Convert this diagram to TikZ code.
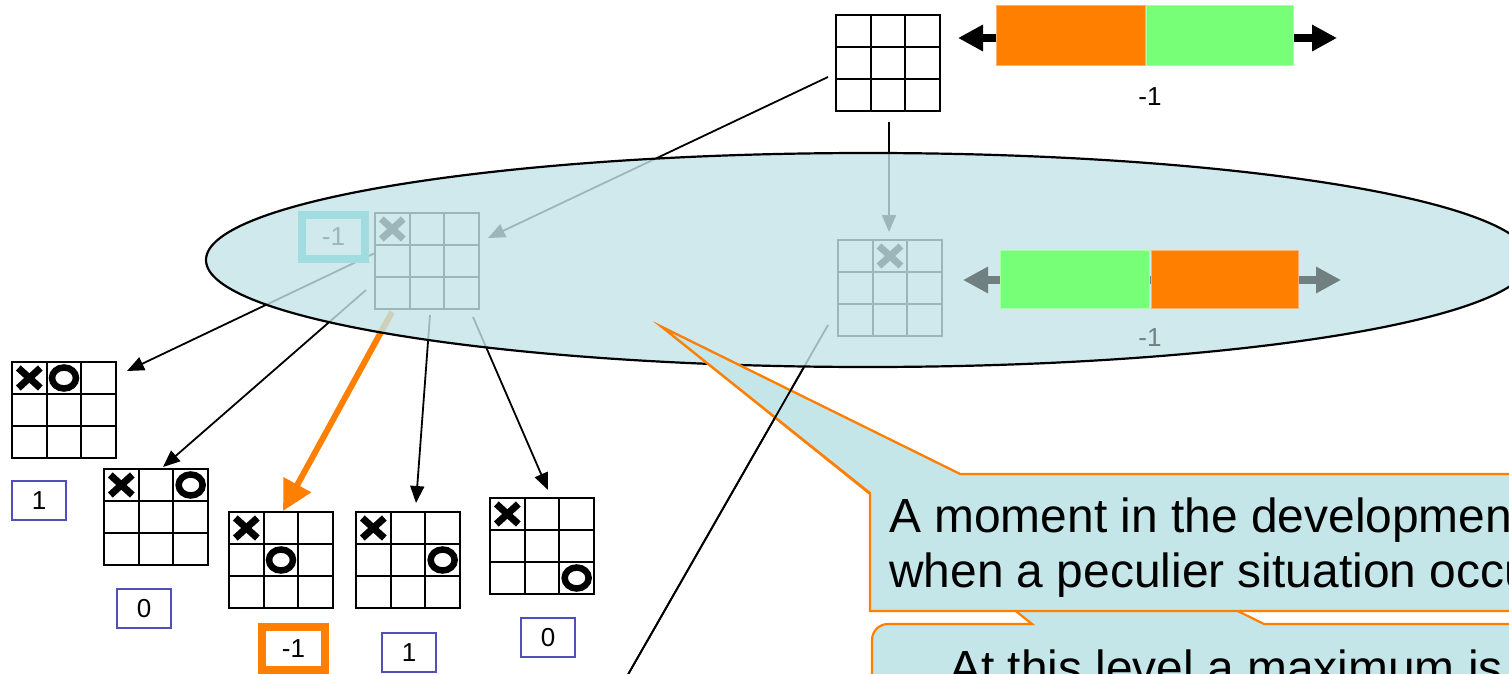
\documentclass[tikz,border=0pt]{standalone}
\usepackage{fontspec}
\setmainfont{Liberation Sans}
\usetikzlibrary{arrows.meta,calc}
\definecolor{ppOrange}{RGB}{255,128,0}
\definecolor{ppOrangeEdge}{RGB}{255,176,110}
\definecolor{ppGreen}{RGB}{120,255,120}
\definecolor{ppGreenEdge}{RGB}{170,255,170}
\definecolor{ppBlue}{RGB}{80,80,184}
\definecolor{ppGray}{RGB}{112,128,128}
\definecolor{ellFill}{RGB}{196,228,232}
\definecolor{callFill}{RGB}{196,230,232}
\definecolor{boxCyan}{RGB}{20,190,195}
\newcommand\tttgrid[1]{%
  \draw[gridline] ($(#1.north west)!1/3!(#1.north east)$) -- ($(#1.south west)!1/3!(#1.south east)$);
  \draw[gridline] ($(#1.north west)!2/3!(#1.north east)$) -- ($(#1.south west)!2/3!(#1.south east)$);
  \draw[gridline] ($(#1.north west)!1/3!(#1.south west)$) -- ($(#1.north east)!1/3!(#1.south east)$);
  \draw[gridline] ($(#1.north west)!2/3!(#1.south west)$) -- ($(#1.north east)!2/3!(#1.south east)$);}
\newcommand\xmark[3]{%
  \draw[xstroke] ($(#1)+(#2*34.667-11,#3*32-10)$) -- ($(#1)+(#2*34.667+11,#3*32+10)$);
  \draw[xstroke] ($(#1)+(#2*34.667-11,#3*32+10)$) -- ($(#1)+(#2*34.667+11,#3*32-10)$);}
\newcommand\omark[3]{%
  \draw[ostroke] ($(#1)+(#2*34.667,#3*32)$) ellipse[x radius=12pt, y radius=10.5pt];}
\begin{document}
\begin{tikzpicture}[x=1pt,y=-1pt,
  boardnode/.style={draw=black, line width=2pt, minimum width=104pt, minimum height=96pt, inner sep=0pt, outer sep=0pt},
  gridline/.style={line width=2pt},
  xstroke/.style={line width=7pt, line cap=butt},
  ostroke/.style={line width=6.5pt},
  conn/.style={line width=1.8pt, -{Triangle[length=17pt,width=14pt]}},
  plainconn/.style={line width=1.8pt},
  bigconn/.style={line width=6pt, draw=ppOrange, -{Triangle[length=30pt,width=30pt]}},
  valbox/.style={draw=ppBlue, line width=1.8pt, fill=white, minimum width=54pt, minimum height=39pt, inner sep=0pt, font=\fontsize{26}{30}\selectfont},
  bestbox/.style={draw=ppOrange, line width=8pt, fill=white, minimum width=63pt, minimum height=43pt, inner sep=0pt, font=\fontsize{26}{30}\selectfont},
  rootbox/.style={draw=boxCyan, line width=8pt, fill=white, minimum width=63pt, minimum height=44pt, inner sep=0pt, font=\fontsize{26}{30}\selectfont},
  barrect/.style={minimum width=148pt, minimum height=60pt, inner sep=0pt, line width=1pt},
  bararrow/.style={line width=8pt, {Triangle[length=25pt,width=25pt]}-{Triangle[length=25pt,width=25pt]}},
  lbl/.style={font=\fontsize{26}{30}\selectfont, inner sep=0pt},
  calloutshape/.style={fill=callFill, draw=ppOrange, line width=2.2pt, line join=miter},
  callouttext/.style={font=\fontsize{47.9}{55}\selectfont, align=left, inner sep=0pt, anchor=base west}
]
\useasboundingbox (0,0) rectangle (1509,674);
\clip (0,0) rectangle (1509,674);
\fill[white] (0,0) rectangle (1509,674);

% ---------- boards ----------
\node[boardnode] (b0) at (888,63) {};
\node[boardnode] (bL) at (427,261) {};
\node[boardnode] (bM) at (890,288) {};
\node[boardnode] (c1) at (64,410) {};
\node[boardnode] (c2) at (156,517) {};
\node[boardnode] (c3) at (281,560) {};
\node[boardnode] (c4) at (408,560) {};
\node[boardnode] (c5) at (542,546) {};
\tttgrid{b0}\tttgrid{bL}\tttgrid{bM}
\tttgrid{c1}\tttgrid{c2}\tttgrid{c3}\tttgrid{c4}\tttgrid{c5}
\xmark{bL}{-1}{-1}
\xmark{bM}{0}{-1}
\xmark{c1}{-1}{-1}\omark{c1}{0}{-1}
\xmark{c2}{-1}{-1}\omark{c2}{1}{-1}
\xmark{c3}{-1}{-1}\omark{c3}{0}{0}
\xmark{c4}{-1}{-1}\omark{c4}{1}{0}
\xmark{c5}{-1}{-1}\omark{c5}{1}{1}

% ---------- connector end points ----------
\coordinate (a1s) at ($(b0.west)+(-8,14)$);
\coordinate (a1e) at ($(bL.east)+(9,-23)$);
\coordinate (a2s) at ($(b0.south)+(1,11)$);
\coordinate (a2e) at ($(bM.north)+(-1,-8)$);
\coordinate (a3s) at ($(bL.west)+(0,-8)$);
\coordinate (a3e) at ($(c1.north east)+(11,9)$);
\coordinate (a4s) at ($(bL.south west)+(-9,-19)$);
\coordinate (a4e) at ($(c2.north east)+(-45,-2)$);
\coordinate (a5s) at ($(bL.south west)+(17,3)$);
\coordinate (a5e) at ($(c3.north)+(2,-1)$);
\coordinate (a6s) at ($(bL.south)+(3,6)$);
\coordinate (a6e) at ($(c4.north)+(8,-9)$);
\coordinate (a7s) at ($(bL.south east)+(-6,8)$);
\coordinate (a7e) at ($(c5.north)+(6,-8)$);
\coordinate (a8s) at ($(bM.south west)+(-10,-11)$);
\coordinate (a8e) at (602,720);

% ---------- connectors ----------
\draw[conn] (a1s) -- (a1e);
\draw[conn] (a2s) -- (a2e);
\draw[conn] (a3s) -- (a3e);
\draw[conn] (a4s) -- (a4e);
\draw[bigconn] (a5s) -- (a5e);
\draw[conn] (a6s) -- (a6e);
\draw[conn] (a7s) -- (a7e);
\draw[plainconn] (a8s) -- (a8e);

% ---------- values ----------
\node[rootbox] (vL) at (333.5,237) {-1};
\node[valbox] (v1) at (39,500.5) {1};
\node[valbox] (v2) at (144,608.5) {0};
\node[bestbox] (v3) at (293.5,648.5) {-1};
\node[valbox] (v4) at (409,652.5) {1};
\node[valbox] (v5) at (548,637.5) {0};

% ---------- top bar ----------
\coordinate (tl) at (958,38);
\coordinate (tr) at (1337,38);
\draw[bararrow, draw=black] (tl) -- (tr);
\node[barrect, fill=ppOrange, draw=ppOrangeEdge, minimum width=149pt] (tO) at (1070.5,36) {};
\node[barrect, fill=ppGreen, draw=ppGreenEdge, minimum width=147pt] (tG) at (1219.5,36) {};
\node[lbl] (tv) at (1150,97) {-1};

% ---------- highlighted group ----------
\path[fill=ellFill, fill opacity=0.8, draw=black, draw opacity=1, line width=2.2pt]
  (868,260) ellipse[x radius=662pt, y radius=107pt];

% ---------- middle bar ----------
\coordinate (ml) at (963,280);
\coordinate (mr) at (1341,280);
\draw[bararrow, draw=ppGray] (ml) -- (mr);
\node[barrect, fill=ppGreen, draw=ppGreenEdge, minimum width=149pt, minimum height=58pt] (mG) at (1074.5,279) {};
\node[barrect, fill=ppOrange, draw=ppOrangeEdge, minimum width=147pt, minimum height=58pt] (mO) at (1224.5,279) {};
\node[lbl, text=ppGray] (mv) at (1150,338) {-1};

% ---------- callouts ----------
\coordinate (tip) at (662,327);
\path[calloutshape] (872,720) -- (872,640) arc[start angle=180, end angle=90, radius=16pt]
  -- (1032,624) -- (tip) -- (1264,624) -- (1540,624) -- (1540,720) -- cycle;
\node[callouttext] (t2) at (949,684) {At this level a maximum is};
\path[calloutshape] (870,611) -- (870,493) -- (tip) -- (960,474) -- (1540,474) -- (1540,611) -- cycle;
\node[callouttext] (t1) at (889,587) {A moment in the development\\when a peculier situation occurs};

% the connector below the group passes over the pointer, outside the ellipse
\begin{scope}
  \clip (0,368.5) rectangle (1509,674);
  \draw[plainconn] (a8s) -- (a8e);
\end{scope}
\end{tikzpicture}
\end{document}
